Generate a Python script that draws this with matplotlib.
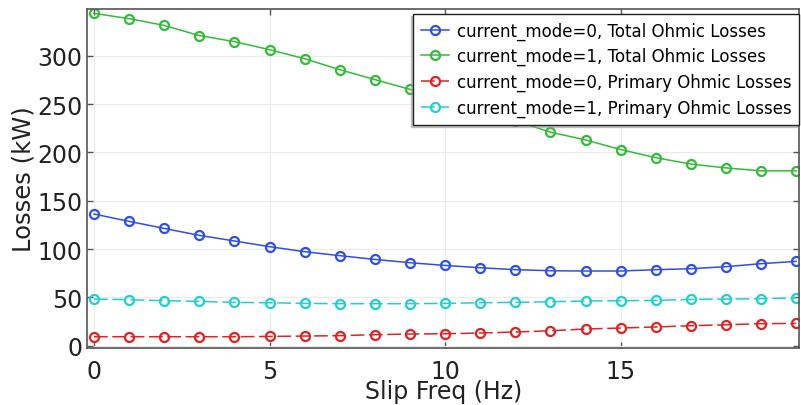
import matplotlib as mpl
mpl.use('Agg')
import matplotlib.pyplot as plt
import numpy as np

# slip frequency (Hz)
slip_freq = list(range(21))

# losses (kW)
total_mode0 = [136.3, 128.7, 121.4, 114.2, 108.4, 102.5, 97.3, 93.2, 89.3, 85.9,
               83.1, 80.7, 78.7, 77.6, 77.3, 77.3, 78.7, 79.7, 81.8, 84.9, 87.3]
total_mode1 = [344.0, 338.5, 331.5, 321.0, 314.7, 306.4, 297.0, 285.7, 275.4, 265.3,
               255.0, 244.0, 233.0, 221.0, 213.0, 203.0, 194.6, 188.0, 184.0, 181.0, 181.0]
primary_mode0 = [9.3, 9.3, 9.3, 9.3, 9.3, 9.6, 10.0, 10.4, 11.4, 12.1,
                 12.4, 13.1, 14.2, 15.5, 17.3, 18.3, 19.4, 20.7, 21.7, 22.8, 23.1]
primary_mode1 = [48.3, 47.6, 46.6, 45.9, 44.8, 44.5, 43.8, 43.5, 43.5, 43.5,
                 43.8, 44.5, 44.8, 45.5, 46.3, 46.6, 46.9, 47.9, 48.3, 48.7, 49.4]

series = [
    (total_mode0, 'current_mode=0, Total Ohmic Losses', '#2f4fe6', '-'),
    (total_mode1, 'current_mode=1, Total Ohmic Losses', '#35bb3a', '-'),
    (primary_mode0, 'current_mode=0, Primary Ohmic Losses', '#dd2424', (0, (9, 3))),
    (primary_mode1, 'current_mode=1, Primary Ohmic Losses', '#22cfcf', (0, (9, 3))),
]

fig = plt.figure(figsize=(8.01, 4.06), dpi=100)
ax = fig.add_axes([0.109, 0.1396, 0.8885, 0.837])

for y, label, color, ls in series:
    ax.plot(slip_freq, y, color=color, linestyle=ls, lw=1.1,
            marker='o', markersize=6.5, markerfacecolor='none',
            markeredgewidth=1.6, label=label)

ax.set_xlim(-0.19, 20.08)
ax.set_ylim(-2.7, 349)
ax.set_xticks([0, 5, 10, 15])
ax.set_yticks([0, 50, 100, 150, 200, 250, 300])
ax.grid(True, color='#ebebeb', lw=0.8)
ax.set_axisbelow(True)

for sp in ax.spines.values():
    sp.set_color('#555555')
    sp.set_linewidth(1.2)
ax.tick_params(direction='in', length=4, width=1, color='#555555',
               labelsize=17, labelcolor='#222222',
               top=True, right=True)
ax.tick_params(axis='x', pad=7.5)
ax.tick_params(axis='y', pad=3.5)

ax.set_xlabel('Slip Freq (Hz)', fontsize=17, color='#222222', labelpad=-2.5)
ax.set_ylabel('Losses (kW)', fontsize=17.5, color='#222222', labelpad=1)

leg = ax.legend(loc='upper right', bbox_to_anchor=(1.0, 0.984), borderaxespad=0,
                fontsize=12, fancybox=False,
                shadow={'ox': -1.5, 'oy': -1.5, 'color': '#999999'},
                framealpha=1, edgecolor='#222222',
                handlelength=1.7, borderpad=0.45, labelspacing=0.45,
                handletextpad=0.45)
leg.get_frame().set_linewidth(1.0)

fig.savefig('out.png', dpi=100)
